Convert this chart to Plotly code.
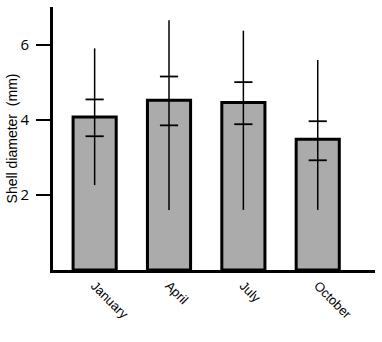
import plotly.graph_objects as go

months = ["January", "April", "July", "October"]
mean = [4.07, 4.52, 4.46, 3.48]
whisker_high = [5.90, 6.65, 6.37, 5.59]
whisker_low = [2.26, 1.60, 1.60, 1.60]
se_high = [4.54, 5.15, 5.00, 3.96]
se_low = [3.56, 3.85, 3.88, 2.92]
y_ticks = [2, 4, 6]

fig = go.Figure()
fig.add_trace(go.Bar(
    x=months, y=mean, width=0.58,
    marker=dict(color="#ababab", line=dict(color="black", width=3)),
    error_y=dict(type="data", symmetric=False,
                 array=[h - m for h, m in zip(whisker_high, mean)],
                 arrayminus=[m - l for m, l in zip(mean, whisker_low)],
                 color="black", thickness=1.5, width=0),
    showlegend=False,
))
fig.add_trace(go.Scatter(
    x=months + months, y=se_high + se_low, mode="markers",
    marker=dict(symbol="line-ew", size=13, line=dict(color="black", width=1.8)),
    showlegend=False, cliponaxis=False,
))

fig.update_layout(
    width=382, height=342,
    margin=dict(l=53, r=7, t=7, b=72),
    paper_bgcolor="white", plot_bgcolor="white",
    font=dict(family="Liberation Sans, Arial", color="black"),
    xaxis=dict(range=[-0.56, 3.77], showline=True, linecolor="black", linewidth=3,
               ticks="", tickangle=45, tickfont=dict(size=13, family="Liberation Sans, Arial"),
               showgrid=False, zeroline=False, fixedrange=True),
    yaxis=dict(range=[0, 7], showline=True, linecolor="black", linewidth=3,
               tickvals=y_ticks, ticks="outside", ticklen=14, tickwidth=2, tickcolor="black",
               ticklabelstandoff=4,
               tickfont=dict(size=15, family="Open Sans"),
               title=dict(text="Shell diameter  (mm)", font=dict(size=14), standoff=0),
               showgrid=False, zeroline=False, fixedrange=True),
)

fig.write_html("out.html", config={"displayModeBar": False},
               post_script="document.body.style.margin='0';")
